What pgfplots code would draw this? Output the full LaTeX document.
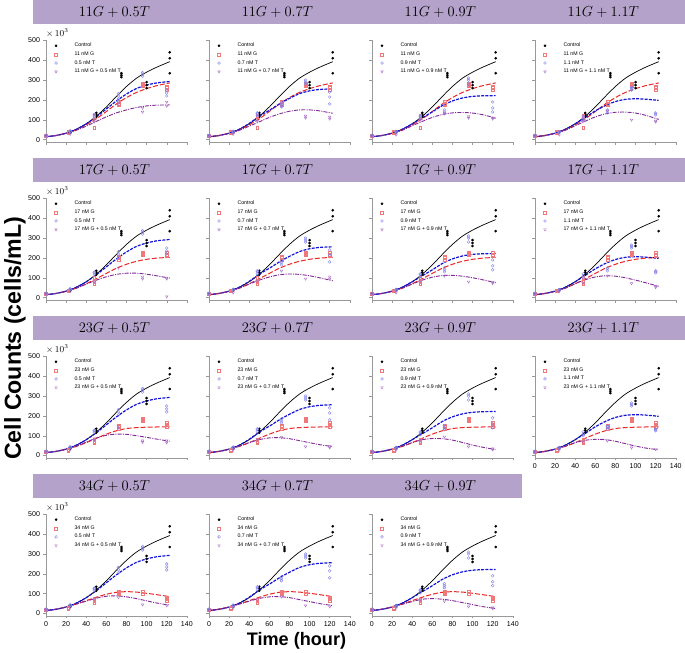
\documentclass[border=0pt]{standalone}
\usepackage[no-math]{fontspec}
\setmainfont{Liberation Sans}
\usepackage{pgfplots}
\pgfplotsset{compat=1.18}
\usepackage{pgfplotstable}
\usepgfplotslibrary{groupplots}
\usetikzlibrary{calc}

\definecolor{banner}{RGB}{180,162,202}
\definecolor{gline}{RGB}{235,40,40}
\definecolor{gmark}{RGB}{240,120,120}
\definecolor{tline}{RGB}{20,20,215}
\definecolor{tmark}{RGB}{130,130,235}
\definecolor{mline}{RGB}{128,40,150}
\definecolor{mmark}{RGB}{170,110,200}

% fitted curves
\pgfplotstableread{
t ctrl g11 g17 g23 g34 t05 t07 t09 t11 m1105 m1107 m1109 m1111 m1705 m1707 m1709 m1711 m2305 m2307 m2309 m2311 m3405 m3407 m3409
0 15 15 15 15 15 15 15 15 15 15 15 15 15 15 15 15 15 15 15 15 15 15 15 15
10 21 21 21 21 22 21 21 21 21 21 21 21 21 21 21 21 21 21 21 21 21 22 22 22
20 33 33 32 32 33 33 33 33 33 32 32 32 32 32 32 32 32 32 32 32 32 33 33 33
30 52 50 48 46 48 52 52 52 52 47 47 47 47 47 47 47 47 47 47 47 47 47 47 46
40 80 75 70 65 65 80 82 80 80 68 68 70 70 68 68 68 70 68 65 65 65 62 62 60
50 118 105 95 87 82 115 118 110 112 92 90 92 93 88 88 88 90 88 80 80 77 77 76 72
60 165 142 122 108 97 155 148 140 145 115 112 112 115 105 104 103 104 102 89 86 82 87 84 75
70 218 180 148 125 107 195 180 172 172 135 130 127 130 117 115 111 110 108 90 85 80 89 85 72
80 268 212 168 136 110 230 208 195 192 150 143 135 138 123 119 112 108 107 85 78 72 84 80 65
90 310 238 183 141 108 258 232 210 203 162 150 137 139 123 117 108 100 100 75 66 60 75 70 55
100 340 257 193 143 102 275 246 218 206 170 150 134 134 118 110 100 88 92 65 53 48 64 60 45
110 365 272 199 144 95 286 253 221 204 174 145 126 123 110 100 90 75 83 55 42 38 53 50 35
123 393 286 203 144 85 293 256 222 198 175 133 108 102 98 85 75 57 72 45 30 29 42 40 25
}\curves

% control measurements
\pgfplotstableread{
t c
0 18
0 20
0 22
24 35
24 38
24 40
50 115
50 125
50 135
75 315
75 325
75 335
100 260
100 275
100 290
123 335
123 410
123 440
}\ctrlpts

% G measurements
\pgfplotstableread{
t g11 g17 g23 g34
0 18 18 18 18
0 20 20 20 20
0 22 22 22 22
22 35 32 25 25
22 38 35 28 28
22 40 37 30 30
48 62 70 65 55
48 115 80 70 62
48 120 100 80 68
72 175 190 135 100
72 180 200 145 105
72 190 205 150 110
96 270 215 175 100
96 275 220 180 108
96 280 225 185 112
120 250 210 145 65
120 260 215 155 75
120 265 225 165 82
}\gpts

% T measurements
\pgfplotstableread{
t t05 t07 t09 t11
0 18 18 18 18
0 20 20 20 20
0 22 22 22 22
24 40 38 36 36
24 42 40 38 38
24 45 43 42 40
48 118 120 105 100
48 125 130 115 110
48 128 135 120 120
72 205 165 130 135
72 220 175 140 145
72 232 185 150 150
96 320 280 280 250
96 330 290 300 258
96 338 300 310 265
120 220 180 140 125
120 235 215 160 130
120 250 240 190 135
}\tpts

\pgfplotsset{
  panel/.style={
    scale only axis, width=140pt, height=101pt,
    xmin=0, xmax=140, ymin=-12, ymax=500,
    axis lines*=left,
    axis line style={gray!80, line width=0.5pt},
    xtick={0,20,...,140}, ytick={0,100,...,500},
    tick style={gray!80, line width=0.4pt}, major tick length=2.5pt, tick align=outside,
    ticklabel style={font=\fontsize{7}{8}\selectfont},
    /pgf/number format/assume math mode=true,
    scaled y ticks=false,
    legend style={at={(0.06,0.995)}, anchor=north west, draw=none, fill=none,
      font=\fontsize{5.2}{5.6}\selectfont, row sep=-0.6pt, inner sep=0pt,
      /tikz/every odd column/.append style={column sep=15pt}},
    legend cell align=left,
    clip=false,
  },
  ctrlp/.style={only marks, mark=*, mark size=1.1pt, black},
  gp/.style={only marks, mark=square, mark size=1.4pt, gmark, mark options={line width=0.4pt}},
  tp/.style={only marks, mark=o, mark size=1.4pt, tmark, mark options={line width=0.4pt}},
  mp/.style={only marks, mark=triangle, mark size=1.5pt, mmark, mark options={rotate=180, line width=0.4pt}},
  ctrlc/.style={smooth, black, line width=0.7pt, no marks, forget plot},
  gc/.style={smooth, gline, line width=1pt, dash pattern=on 5pt off 2pt, no marks, forget plot},
  tc/.style={smooth, tline, line width=1.2pt, dash pattern=on 3pt off 1.2pt, no marks, forget plot},
  mc/.style={smooth, mline, line width=0.9pt, dash pattern=on 4pt off 1.2pt on 1pt off 1.2pt, no marks, forget plot},
}

% #1 G column, #2 T column, #3 combination column, #4 G value, #5 T value, #6 combination data
\newcommand{\panelplots}[6]{%
  \addplot[ctrlp] table[x=t,y=c]{\ctrlpts}; \addlegendentry{Control}
  \addplot[gp] table[x=t,y=#1]{\gpts}; \addlegendentry{#4 nM G}
  \addplot[tp] table[x=t,y=#2]{\tpts}; \addlegendentry{#5 nM T}
  \addplot[mp] coordinates {#6}; \addlegendentry{#4 nM G + #5 nM T}
  \addplot[ctrlc] table[x=t,y=ctrl]{\curves};
  \addplot[gc] table[x=t,y=#1]{\curves};
  \addplot[tc] table[x=t,y=#2]{\curves};
  \addplot[mc] table[x=t,y=#3]{\curves};
}

\begin{document}
\begin{tikzpicture}
\begin{groupplot}[group style={group size=4 by 4, horizontal sep=22pt, vertical sep=56pt}, panel]
% row 1
\nextgroupplot[xticklabels={}]
\panelplots{g11}{t05}{m1105}{11}{0.5}{(0,17)(24,28)(48,90)(48,100)(72,180)(72,190)(96,140)(96,160)(120,170)(120,190)}
\nextgroupplot[xticklabels={}, yticklabels={}]
\panelplots{g11}{t07}{m1107}{11}{0.7}{(0,17)(24,28)(48,95)(72,170)(72,180)(96,110)(96,120)(120,105)(120,115)}
\nextgroupplot[xticklabels={}, yticklabels={}]
\panelplots{g11}{t09}{m1109}{11}{0.9}{(0,17)(24,25)(48,100)(72,135)(96,110)(96,118)(120,105)(120,110)}
\nextgroupplot[xticklabels={}, yticklabels={}]
\panelplots{g11}{t11}{m1111}{11}{1.1}{(0,17)(24,25)(48,95)(72,145)(96,100)(120,90)(120,95)}
% row 2
\nextgroupplot[xticklabels={}]
\panelplots{g17}{t05}{m1705}{17}{0.5}{(0,17)(24,30)(48,80)(72,150)(96,95)(96,105)(120,95)(120,100)(120,5)}
\nextgroupplot[xticklabels={}, yticklabels={}]
\panelplots{g17}{t07}{m1707}{17}{0.7}{(0,17)(24,25)(48,85)(72,135)(96,95)(120,95)(120,105)}
\nextgroupplot[xticklabels={}, yticklabels={}]
\panelplots{g17}{t09}{m1709}{17}{0.9}{(0,17)(24,25)(48,85)(72,110)(96,80)(120,78)(120,72)}
\nextgroupplot[xticklabels={}, yticklabels={}]
\panelplots{g17}{t11}{m1711}{17}{1.1}{(0,17)(24,30)(48,75)(72,110)(96,72)(120,52)(120,58)}
% row 3
\nextgroupplot[xticklabels={}]
\panelplots{g23}{t05}{m2305}{23}{0.5}{(0,17)(24,30)(48,78)(48,85)(72,140)(72,150)(96,68)(96,75)(120,65)(120,75)}
\nextgroupplot[xticklabels={}, yticklabels={}]
\panelplots{g23}{t07}{m2307}{23}{0.7}{(0,17)(24,28)(48,80)(72,92)(96,45)(120,40)(120,46)}
\nextgroupplot[xticklabels={}, yticklabels={}]
\panelplots{g23}{t09}{m2309}{23}{0.9}{(0,17)(24,28)(48,75)(72,95)(96,45)(120,30)(120,35)}
\nextgroupplot[yticklabels={}]
\panelplots{g23}{t11}{m2311}{23}{1.1}{(0,17)(24,28)(48,70)(72,75)(96,40)(120,32)}
% row 4
\nextgroupplot[]
\panelplots{g34}{t05}{m3405}{34}{0.5}{(0,17)(24,28)(48,75)(72,82)(96,45)(120,40)}
\nextgroupplot[yticklabels={}]
\panelplots{g34}{t07}{m3407}{34}{0.7}{(0,17)(24,28)(48,70)(72,85)(96,40)(120,35)}
\nextgroupplot[yticklabels={}]
\panelplots{g34}{t09}{m3409}{34}{0.9}{(0,17)(24,28)(48,70)(72,62)(96,35)(120,25)(120,30)}
\end{groupplot}

% banners
\foreach \c/\r/\txt in {1/1/{11G + 0.5T},2/1/{11G + 0.7T},3/1/{11G + 0.9T},4/1/{11G + 1.1T},
  1/2/{17G + 0.5T},2/2/{17G + 0.7T},3/2/{17G + 0.9T},4/2/{17G + 1.1T},
  1/3/{23G + 0.5T},2/3/{23G + 0.7T},3/3/{23G + 0.9T},4/3/{23G + 1.1T},
  1/4/{34G + 0.5T},2/4/{34G + 0.7T},3/4/{34G + 0.9T}}{
  \node[fill=banner, minimum width=162pt, minimum height=24pt, anchor=south, inner sep=0pt,
        font=\fontsize{15}{15}\selectfont]
    at ([xshift=-2pt,yshift=16pt]group c\c r\r.north) {$\txt$};
}
% x10^3 labels
\foreach \r in {1,2,3,4}{
  \node[anchor=south west, inner sep=0pt, font=\fontsize{9}{9}\selectfont]
    at ([yshift=3pt]group c1r\r.north west) {$\times\,10^3$};
}
\node[rotate=90, inner sep=4pt, font=\bfseries\fontsize{23}{23}\selectfont]
  at ($(group c1r2.south west)!0.5!(group c1r3.north west) + (-31pt,-10pt)$) {Cell Counts (cells/mL)};
\node[font=\bfseries\fontsize{18}{18}\selectfont]
  at ($(group c2r4.south) + (17pt,-25pt)$) {Time (hour)};
\end{tikzpicture}
\end{document}
